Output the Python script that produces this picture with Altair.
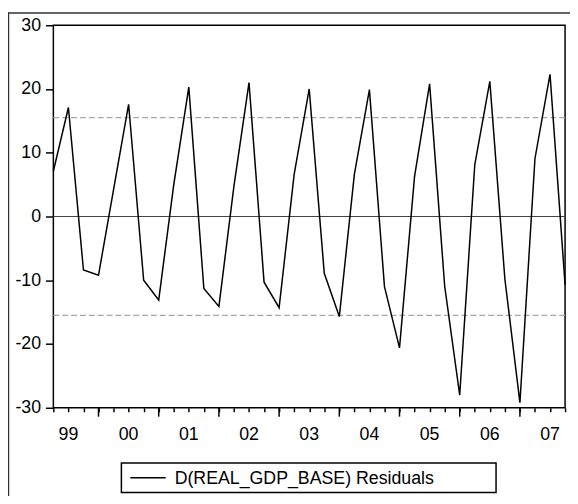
import altair as alt
import pandas as pd

# ---- data ----
obs_index = list(range(35))  # 1999Q2 .. 2007Q4
residuals = [7.1, 17.1, -8.4, -9.2, 4.2, 17.6, -10.0, -13.1, 5.0, 20.3,
             -11.3, -14.1, 4.8, 21.0, -10.3, -14.3, 6.6, 20.0, -8.9, -15.7,
             6.6, 19.9, -11.0, -20.6, 6.3, 20.8, -10.9, -28.0, 8.1, 21.2,
             -9.8, -29.2, 9.1, 22.3, -10.7]
year_labels = ["99", "00", "01", "02", "03", "04", "05", "06", "07"]
year_label_pos = [1, 5, 9, 13, 17, 21, 25, 29, 33]
year_start_pos = [3, 7, 11, 15, 19, 23, 27, 31]
band_levels = [15.5, -15.5]
zero_level = [0]
y_ticks = [-30, -20, -10, 0, 10, 20, 30]
legend_label = ["D(REAL_GDP_BASE) Residuals"]

W, H = 519, 388
FONT = "Liberation Sans"
FS = 18

series = pd.DataFrame({"t": obs_index, "resid": residuals})
xs = alt.Scale(domain=[0, 34], nice=False, zero=False)
ys = alt.Scale(domain=[-30, 30], nice=False, zero=False)

x_axis = alt.Axis(values=obs_index, tickSize=4, tickWidth=1.5, tickColor="black",
                  labels=False, domain=False, grid=False, title=None)
y_axis = alt.Axis(values=y_ticks, tickSize=8, tickWidth=1.5, tickColor="black",
                  labelFontSize=FS, labelFont=FONT, labelColor="black",
                  labelExpr="toString(datum.value)",
                  labelPadding=5, domain=False, grid=False, title=None)

line = alt.Chart(series).mark_line(color="black", strokeWidth=1.5).encode(
    x=alt.X("t:Q", scale=xs, axis=x_axis),
    y=alt.Y("resid:Q", scale=ys, axis=y_axis),
)

zero = alt.Chart(pd.DataFrame({"resid": zero_level})).mark_rule(color="#404040", strokeWidth=1).encode(
    y=alt.Y("resid:Q", scale=ys, axis=y_axis))

bands = alt.Chart(pd.DataFrame({"resid": band_levels})).mark_rule(
    color="#a8a8a8", strokeWidth=1.2, strokeDash=[6, 3]).encode(
    y=alt.Y("resid:Q", scale=ys, axis=y_axis))

major = alt.Chart(pd.DataFrame({"t": year_start_pos})).mark_rule(color="black", strokeWidth=1.5).encode(
    x=alt.X("t:Q", scale=xs, axis=x_axis), y=alt.value(H), y2=alt.value(H + 9))

years = alt.Chart(pd.DataFrame({"t": year_label_pos, "lab": year_labels})).mark_text(
    font=FONT, fontSize=FS, color="black", baseline="middle", align="center").encode(
    x=alt.X("t:Q", scale=xs, axis=x_axis), y=alt.value(H + 28), text="lab:N")

leg_df = pd.DataFrame({"lab": legend_label})
leg_box = alt.Chart(leg_df).mark_rect(fill="white", stroke="black", strokeWidth=1.5).encode(
    x=alt.value(69), x2=alt.value(449), y=alt.value(444), y2=alt.value(474))
leg_line = alt.Chart(leg_df).mark_rule(color="black", strokeWidth=1.5).encode(
    x=alt.value(78), x2=alt.value(114), y=alt.value(459))
leg_text = alt.Chart(leg_df).mark_text(font=FONT, fontSize=FS, color="black",
                                        align="left", baseline="middle").encode(
    x=alt.value(123), y=alt.value(460), text="lab:N")

frame_top = alt.Chart(leg_df).mark_rule(color="#333333", strokeWidth=1.5).encode(
    x=alt.value(-46), x2=alt.value(W + 10), y=alt.value(-12.5))
frame_left = alt.Chart(leg_df).mark_rule(color="#333333", strokeWidth=1.5).encode(
    x=alt.value(-45.5), y=alt.value(-13), y2=alt.value(H + 100))

chart = alt.layer(bands, zero, line, major, years, leg_box, leg_line, leg_text,
                  frame_top, frame_left).properties(
    width=W, height=H,
    autosize=alt.AutoSizeParams(type="none"),
    padding={"left": 46, "top": 14, "right": 5, "bottom": 86},
    background="white",
).configure_view(stroke="black", strokeWidth=1.5)

chart.save("out.html", embed_options={"renderer": "svg", "actions": False})
